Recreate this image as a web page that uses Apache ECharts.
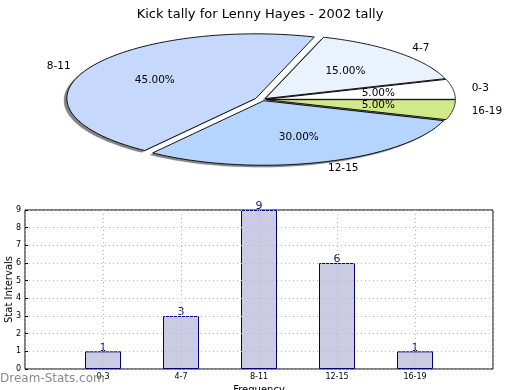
<!DOCTYPE html>
<html>
<head>
<meta charset="utf-8">
<script src="https://cdn.jsdelivr.net/npm/echarts@6/dist/echarts.min.js"></script>
<style>html,body{margin:0;padding:0;background:#fff;}#c{width:520px;height:390px;}</style>
</head>
<body>
<div id="c"></div>
<script>
// ---- data ----
const pieLabels = ['0-3', '4-7', '8-11', '12-15', '16-19'];
const pieValues = [5, 15, 45, 30, 5];
const barCategories = ['0-3', '4-7', '8-11', '12-15', '16-19'];
const barValues = [1, 3, 9, 6, 1];
const yTickValues = [0, 1, 2, 3, 4, 5, 6, 7, 8, 9];

// ---- style ----
const pieColors = ['#ffffff', '#eaf2fe', '#c6d9fd', '#b5d5fe', '#d0ea8a'];
const pieExplode = [0.02, 0.02, 0.04, 0.02, 0.02];
const FONT = 'DejaVu Sans';

const chart = echarts.init(document.getElementById('c'), null, {renderer: 'canvas'});

function wedge(idx, api) {
  const cx = api.getWidth() * 0.505, cy = 99.5, rx = 189, ry = 64.5;
  const total = pieValues.reduce((a, b) => a + b, 0);
  let start = 0;
  for (let i = 0; i < idx; i++) start += pieValues[i];
  const a0 = start / total * Math.PI * 2;
  const a1 = (start + pieValues[idx]) / total * Math.PI * 2;
  const mid = (a0 + a1) / 2;
  const ox = cx + pieExplode[idx] * rx * Math.cos(mid);
  const oy = cy - pieExplode[idx] * ry * Math.sin(mid);
  const pts = [[ox, oy]];
  const n = 80;
  for (let k = 0; k <= n; k++) {
    const a = a0 + (a1 - a0) * k / n;
    pts.push([ox + rx * Math.cos(a), oy - ry * Math.sin(a)]);
  }
  return {pts, mid, ox, oy, rx, ry, pct: pieValues[idx] / total * 100};
}

const option = {
  animation: false,
  title: {
    text: 'Kick tally for Lenny Hayes - 2002 tally',
    left: 'center', top: 3,
    textStyle: {fontFamily: FONT, fontSize: 13, fontWeight: 'normal', color: '#000'}
  },
  graphic: [{
    type: 'text', left: 0, top: 373, z: 100,
    style: {text: 'Dream-Stats.com', fontFamily: FONT, fontSize: 12, fill: '#8a8a8a'}
  }],
  grid: {left: 25, right: 27, top: 210, bottom: 21, outerBoundsMode: 'none', containLabel: false,
         show: true, borderColor: '#000', borderWidth: 1, backgroundColor: 'transparent'},
  xAxis: {
    type: 'value', min: 0, max: 6, interval: 1, z: 5,
    name: 'Frequency', nameLocation: 'middle', nameGap: 16, nameMoveOverlap: false,
    nameTextStyle: {fontFamily: FONT, fontSize: 10, color: '#000'},
    axisLine: {show: false},
    axisTick: {show: false},
    axisLabel: {
      fontFamily: FONT, fontSize: 8, color: '#000', margin: 4,
      formatter: v => (v >= 1 && v <= barCategories.length) ? barCategories[v - 1] : ''
    },
    splitLine: {show: true, lineStyle: {color: '#b8b8b8', type: [1, 3], width: 1}}
  },
  yAxis: {
    type: 'value', min: 0, max: 9, interval: 1, z: 5,
    name: 'Stat Intervals', nameLocation: 'middle', nameGap: 11, nameMoveOverlap: false,
    nameTextStyle: {fontFamily: FONT, fontSize: 10, color: '#000'},
    axisLine: {show: false},
    axisTick: {show: true, inside: true, length: 3, lineStyle: {color: '#000'}},
    axisLabel: {fontFamily: FONT, fontSize: 8, color: '#000', margin: 4,
      formatter: v => yTickValues.includes(v) ? String(v) : ''},
    splitLine: {show: true, lineStyle: {color: '#b8b8b8', type: [1, 3], width: 1}}
  },
  series: [
    {
      type: 'custom', coordinateSystem: 'none', z: 1,
      data: pieValues,
      renderItem: (params, api) => {
        const w = wedge(params.dataIndex, api);
        return {
          type: 'polygon',
          shape: {points: w.pts.map(p => [p[0] - 3, p[1] + 2])},
          style: {fill: 'rgba(60,60,60,0.55)', shadowBlur: 2, shadowColor: 'rgba(0,0,0,0.3)'}
        };
      }
    },
    {
      type: 'custom', coordinateSystem: 'none', z: 2,
      data: pieValues,
      renderItem: (params, api) => {
        const idx = params.dataIndex;
        const w = wedge(idx, api);
        const c = Math.cos(w.mid), s = Math.sin(w.mid);
        return {
          type: 'group',
          children: [
            {type: 'polygon', shape: {points: w.pts},
             style: {fill: pieColors[idx], stroke: '#000', lineWidth: 0.9}},
            {type: 'text', z2: 10,
             style: {x: w.ox + 1.1 * w.rx * c, y: w.oy - 1.1 * w.ry * s,
                     text: pieLabels[idx], fontFamily: FONT, fontSize: 10.5, fill: '#000',
                     align: c >= 0 ? 'left' : 'right', verticalAlign: 'middle'}},
            {type: 'text', z2: 10,
             style: {x: w.ox + 0.6 * w.rx * c, y: w.oy - 0.6 * w.ry * s,
                     text: w.pct.toFixed(2) + '%', fontFamily: FONT, fontSize: 10.5, fill: '#000',
                     align: 'center', verticalAlign: 'middle'}}
          ]
        };
      }
    },
    {
      type: 'bar', z: 2,
      data: barValues.map((v, i) => [i + 1, v]),
      barWidth: 36,
      itemStyle: {color: '#cbcbe4', borderColor: '#000080', borderWidth: 1},
      label: {show: true, position: 'top', distance: -2, fontFamily: FONT, fontSize: 11, color: '#14147a'}
    }
  ]
};
chart.setOption(option);
</script>
</body>
</html>
